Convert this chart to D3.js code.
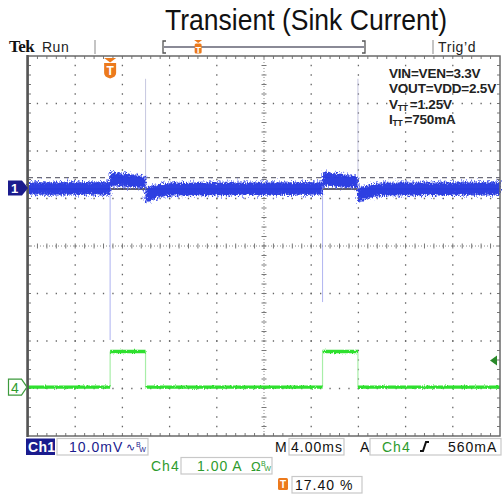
<!DOCTYPE html>
<html>
<head>
<meta charset="utf-8">
<script src="https://cdn.jsdelivr.net/npm/d3@7"></script>
<style>
  html, body { margin: 0; padding: 0; background: #fff; }
  svg { display: block; font-family: "Liberation Sans", Arial, sans-serif; }
</style>
</head>
<body>
<svg id="scope" width="503" height="494"></svg>
<script>
// ---- Acquisition settings ----
const timePerDiv = 4.0;        // ms / div
const ch1PerDiv = 10.0;        // mV / div
const ch4PerDiv = 1.0;         // A / div
const triggerPct = 17.40;      // trigger position, % of record
const triggerLevel = 0.56;     // A, on Ch4
const ch1Position = 1.22;      // div above centre
const ch4Position = -2.97;     // div below centre
const ch1RefLevel = 2.2;       // mV, dashed reference

// ---- Ch1 (output voltage, AC) envelope, mV ----
const ch1Time = [-6.96, -0.02, 0.02, 0.5, 1.5, 2.5, 2.98, 3.02, 3.4, 4.2, 5.5,
                 17.98, 18.02, 18.5, 19.5, 20.5, 20.98, 21.02, 21.4, 22.2, 23.5, 33.04];
const ch1High = [1.2, 1.2, 3.4, 3.2, 2.9, 2.6, 2.4, -0.1, 0.3, 0.8, 1.1,
                 1.2, 3.4, 3.2, 2.9, 2.6, 2.4, -0.1, 0.3, 0.8, 1.1, 1.2];
const ch1Low  = [-1.4, -1.4, 0.5, 0.5, 0.3, 0.1, 0.0, -3.0, -2.6, -1.9, -1.5,
                 -1.4, 0.5, 0.5, 0.3, 0.1, 0.0, -3.0, -2.6, -1.9, -1.5, -1.4];
// switching spikes on Ch1, mV
const spikeTime = [0, 3, 18, 21];
const spikePeak = [-32, 23, -24, 23];

// ---- Ch4 (sink current) levels, A ----
const ch4Start = [-6.96, 0, 3, 18, 21];
const ch4End   = [0, 3, 18, 21, 33.04];
const ch4Level = [0, 0.75, 0, 0.75, 0];

// ---- Text ----
const titleText = "Transient (Sink Current)";
const conditions = ["VIN=VEN=3.3V", "VOUT=VDD=2.5V", "V|TT|=1.25V", "I|TT|=750mA"];
const ch1ScaleLabel = "10.0mV";
const timeLabel = "4.00ms";
const trigLabel = "560mA";
const ch4ScaleLabel = "1.00 A";
const posLabel = "17.40 %";

const svg = d3.select("#scope");
const L = 28, R = 500, T = 56, B = 436;
const W = R - L, H = B - T;

const t0 = -triggerPct / 100 * 10 * timePerDiv;
const x = d3.scaleLinear().domain([t0, t0 + 10 * timePerDiv]).range([L, R]);
const yDiv = d3.scaleLinear().domain([-4, 4]).range([B, T]);
const y1 = v => yDiv(ch1Position + v / ch1PerDiv);
const y4 = v => yDiv(ch4Position + v / ch4PerDiv);

const NAVY = "#1b1c8e", GREEN = "#2e9b2e", ORANGE = "#ec7a1c";

// ---- filters for trace noise ----
const defs = svg.append("defs");
function noiseFilter(id, freq, scale, seed, oct) {
  const f = defs.append("filter").attr("id", id)
    .attr("x", "-2%").attr("y", "-150%").attr("width", "104%").attr("height", "400%");
  f.append("feTurbulence").attr("type", "fractalNoise").attr("baseFrequency", freq)
    .attr("numOctaves", oct).attr("seed", seed).attr("result", "tb");
  f.append("feDisplacementMap").attr("in", "SourceGraphic").attr("in2", "tb")
    .attr("scale", scale).attr("xChannelSelector", "B").attr("yChannelSelector", "R");
}
noiseFilter("noiseA", "1.2 0.3", 14, 3, 2);
noiseFilter("noiseB", "0.9 0.5", 8, 11, 2);
noiseFilter("noise4", "0.9 0.4", 3, 7, 1);

// ---- title ----
svg.append("text").attr("x", 165).attr("y", 30)
  .attr("font-size", 30).attr("fill", "#111")
  .attr("textLength", 282).attr("lengthAdjust", "spacingAndGlyphs")
  .text(titleText);

// ---- header bar ----
svg.append("text").attr("x", 9).attr("y", 52).style("font-family", "'Liberation Serif', serif")
  .attr("font-weight", "bold").attr("font-size", 17).attr("fill", "#111")
  .attr("letter-spacing", -0.5).text("Tek");
svg.append("text").attr("x", 42).attr("y", 51.5).attr("font-size", 14).attr("fill", "#222")
  .attr("letter-spacing", 0.5).text("Run");
svg.append("text").attr("x", 438).attr("y", 51.5).attr("font-size", 14).attr("fill", "#222")
  .attr("letter-spacing", 0.6).text("Trig’d");
[95, 433].forEach(px => svg.append("line").attr("x1", px).attr("x2", px)
  .attr("y1", 40).attr("y2", 54).attr("stroke", "#c4c4c4").attr("stroke-width", 2));
// record window
svg.append("path").attr("d", "M166,41 h-3 v12 h3 M362,41 h3 v12 h-3")
  .attr("fill", "none").attr("stroke", "#555").attr("stroke-width", 1.3);
svg.append("line").attr("x1", 164).attr("x2", 364).attr("y1", 47).attr("y2", 47)
  .attr("stroke", "#8a8a96").attr("stroke-width", 2.2);
const recX = 163 + triggerPct / 100 * 202;
svg.append("path").attr("d", `M${recX - 4},40 h8 l-4,3 z`).attr("fill", ORANGE);
svg.append("rect").attr("x", recX - 3.5).attr("y", 43.5).attr("width", 7).attr("height", 10)
  .attr("rx", 1.5).attr("fill", ORANGE);
svg.append("text").attr("x", recX).attr("y", 52.5).attr("text-anchor", "middle")
  .attr("font-size", 9).attr("font-weight", "bold").attr("fill", "#fff").text("T");

// ---- graticule ----
const g = svg.append("g");
g.append("rect").attr("x", L).attr("y", T).attr("width", W).attr("height", H)
  .attr("fill", "#fff");
const dx = W / 10, dy = H / 8;
for (let i = 1; i < 10; i++) {
  if (i === 5) continue;
  g.append("line").attr("x1", L + i * dx).attr("x2", L + i * dx).attr("y1", T).attr("y2", B)
    .attr("stroke", "#666").attr("stroke-width", 1.3)
    .attr("stroke-dasharray", `1.3,${dy / 5 - 1.3}`).attr("stroke-dashoffset", 0.65);
}
for (let j = 1; j < 8; j++) {
  if (j === 4) continue;
  g.append("line").attr("y1", T + j * dy).attr("y2", T + j * dy).attr("x1", L).attr("x2", R)
    .attr("stroke", "#666").attr("stroke-width", 1.3)
    .attr("stroke-dasharray", `1.3,${dx / 5 - 1.3}`).attr("stroke-dashoffset", 0.65);
}
// centre cross with minor ticks
const cx = L + 5 * dx, cy = T + 4 * dy;
g.append("line").attr("x1", cx).attr("x2", cx).attr("y1", T).attr("y2", B)
  .attr("stroke", "#888").attr("stroke-width", 1).attr("stroke-dasharray", "1,2");
g.append("line").attr("y1", cy).attr("y2", cy).attr("x1", L).attr("x2", R)
  .attr("stroke", "#888").attr("stroke-width", 1).attr("stroke-dasharray", "1,2");
const tickPath = [];
for (let k = 1; k < 50; k++) {
  const px = L + k * dx / 5;
  tickPath.push(`M${px},${cy - 2.5}V${cy + 2.5}`);
  tickPath.push(`M${px},${T}V${T + 3}`, `M${px},${B}V${B - 3}`);
}
for (let k = 1; k < 40; k++) {
  const py = T + k * dy / 5;
  tickPath.push(`M${cx - 2.5},${py}H${cx + 2.5}`);
  tickPath.push(`M${L},${py}H${L + 3}`, `M${R},${py}H${R - 3}`);
}
g.append("path").attr("d", tickPath.join("")).attr("stroke", "#777").attr("stroke-width", 1);

// ---- Ch1 reference lines ----
svg.append("line").attr("x1", L).attr("x2", R).attr("y1", y1(ch1RefLevel)).attr("y2", y1(ch1RefLevel))
  .attr("stroke", "#6c6c78").attr("stroke-width", 1.4).attr("stroke-dasharray", "5,4");
svg.append("line").attr("x1", L).attr("x2", R).attr("y1", y1(0) + 1).attr("y2", y1(0) + 1)
  .attr("stroke", "#2a2a40").attr("stroke-width", 1.4);

// ---- Ch1 spikes ----
spikeTime.forEach((t, i) => {
  svg.append("line").attr("x1", x(t)).attr("x2", x(t))
    .attr("y1", y1(0)).attr("y2", y1(spikePeak[i]))
    .attr("stroke", spikePeak[i] < 0 ? "#7880e6" : "#b8bad8")
    .attr("stroke-width", 1.1).attr("stroke-opacity", spikePeak[i] < 0 ? 0.55 : 0.75);
});

// ---- Ch1 trace ----
const ch1Data = ch1Time.map((t, i) => ({ t, hi: ch1High[i], lo: ch1Low[i] }));
const area1 = d3.area().x(d => x(d.t)).y0(d => y1(d.lo)).y1(d => y1(d.hi));
svg.append("path").datum(ch1Data).attr("d", area1)
  .attr("fill", "#6f7cf0").attr("opacity", 0.75).attr("filter", "url(#noiseA)");
svg.append("path").datum(ch1Data).attr("d", area1)
  .attr("fill", "#2336e0").attr("opacity", 0.9).attr("filter", "url(#noiseB)");

// ---- Ch4 trace ----
const ch4Edges = ch4Start.slice(1).map((t, i) => ({ t, a: ch4Level[i], b: ch4Level[i + 1] }));
ch4Edges.forEach(e => svg.append("line").attr("x1", x(e.t)).attr("x2", x(e.t))
  .attr("y1", y4(e.a)).attr("y2", y4(e.b))
  .attr("stroke", "#a8eea8").attr("stroke-width", 1.2));
const ch4Seg = ch4Start.map((s, i) => ({ s, e: ch4End[i], v: ch4Level[i] }));
svg.append("g").attr("filter", "url(#noise4)").selectAll("line").data(ch4Seg).join("line")
  .attr("x1", d => x(d.s)).attr("x2", d => x(d.e))
  .attr("y1", d => y4(d.v)).attr("y2", d => y4(d.v))
  .attr("stroke", "#2ee02e").attr("stroke-width", 3.4);

// ---- frame ----
svg.append("rect").attr("x", L).attr("y", T).attr("width", W).attr("height", H)
  .attr("fill", "none").attr("stroke", "#6a6a6a").attr("stroke-width", 1.5);
svg.append("line").attr("x1", L - 0.5).attr("x2", L - 0.5).attr("y1", T - 1).attr("y2", B + 1)
  .attr("stroke", "#555").attr("stroke-width", 2.5);

// ---- channel markers ----
const m1 = y1(0);
svg.append("path").attr("d", `M8,${m1 - 7.5} h14 l6,7.5 l-6,7.5 h-14 z`).attr("fill", NAVY);
svg.append("text").attr("x", 14.5).attr("y", m1 + 5).attr("text-anchor", "middle")
  .attr("font-size", 13).attr("font-weight", "bold").attr("fill", "#fff").text("1");
const m4 = y4(0);
svg.append("path").attr("d", `M8.5,${m4 - 8} h13 l5.5,8 l-5.5,8 h-13 z`)
  .attr("fill", "#fff").attr("stroke", "#3d9a3d").attr("stroke-width", 1.2);
svg.append("text").attr("x", 15).attr("y", m4 + 5.5).attr("text-anchor", "middle")
  .attr("font-size", 14).attr("fill", GREEN).text("4");
// trigger level arrow
const tl = y4(triggerLevel);
svg.append("path").attr("d", `M490,${tl} l7,-5 v10 z`).attr("fill", "#2a8a2a");
// trigger position marker
const tx = x(0);
svg.append("path").attr("d", `M${tx - 6},58 h12 l-6,4.5 z`).attr("fill", ORANGE);
svg.append("path").attr("d", `M${tx - 6},63 h12 v10 q0,4 -6,5.5 q-6,-1.5 -6,-5.5 z`).attr("fill", ORANGE);
svg.append("text").attr("x", tx).attr("y", 75).attr("text-anchor", "middle")
  .attr("font-size", 12).attr("font-weight", "bold").attr("fill", "#fff").text("T");

// ---- test conditions ----
const cond = svg.append("g").attr("fill", "#222").attr("font-size", 13.5).attr("font-weight", "bold");
conditions.forEach((s, i) => {
  const t = cond.append("text").attr("x", 389).attr("y", 78 + i * 15.3)
    .attr("letter-spacing", -0.2);
  const parts = s.split("|");
  parts.forEach((p, k) => {
    const sp = t.append("tspan").text(p);
    if (k === 1) sp.attr("font-size", 8.5).attr("dy", 2.5);
    if (k === 2) sp.attr("dy", -2.5).attr("dx", 2);
  });
});

// ---- status readout ----
const st = svg.append("g").attr("font-size", 14).attr("letter-spacing", 1);
function box(x0, y0, w, h) {
  st.append("rect").attr("x", x0).attr("y", y0).attr("width", w).attr("height", h)
    .attr("fill", "#fff").attr("stroke", "#c8c8c8").attr("stroke-width", 1.2);
}
function bwMark(x0, yb, color) {
  const t = st.append("text").attr("x", x0).attr("y", yb - 5).attr("fill", color)
    .attr("font-size", 7).attr("letter-spacing", 0);
  t.append("tspan").text("B");
  t.append("tspan").attr("dy", 5).attr("dx", -1.5).text("W");
}
// row 1
st.append("rect").attr("x", 26).attr("y", 438.5).attr("width", 29).attr("height", 16.5).attr("fill", NAVY);
st.append("text").attr("x", 28).attr("y", 452).attr("fill", "#fff").attr("font-weight", "bold")
  .attr("letter-spacing", 0.3).text("Ch1");
box(57, 438.5, 91, 16.5);
st.append("text").attr("x", 69).attr("y", 452).attr("fill", NAVY).text(ch1ScaleLabel);
st.append("text").attr("x", 126).attr("y", 451).attr("fill", NAVY).attr("font-size", 11)
  .attr("letter-spacing", 0).text("∿");
bwMark(136, 452, NAVY);
st.append("text").attr("x", 275).attr("y", 452).attr("fill", "#111").attr("letter-spacing", 0).text("M");
box(289, 438.5, 55, 16.5);
st.append("text").attr("x", 291).attr("y", 452).attr("fill", "#111").text(timeLabel);
st.append("text").attr("x", 360).attr("y", 452).attr("fill", "#111").text("A");
box(370, 438.5, 131, 16.5);
st.append("text").attr("x", 382).attr("y", 452).attr("fill", GREEN).text("Ch4");
st.append("path").attr("d", "M420,451 h3 l3,-9 h3").attr("fill", "none")
  .attr("stroke", "#111").attr("stroke-width", 2);
st.append("text").attr("x", 448).attr("y", 452).attr("fill", "#111").text(trigLabel);
// row 2
st.append("text").attr("x", 151).attr("y", 471).attr("fill", GREEN).text("Ch4");
box(181, 457.5, 91, 16.5);
st.append("text").attr("x", 197).attr("y", 471).attr("fill", GREEN).text(ch4ScaleLabel);
st.append("text").attr("x", 251).attr("y", 471).attr("fill", GREEN).attr("font-size", 13)
  .attr("letter-spacing", 0).text("Ω");
bwMark(261, 471, GREEN);
// row 3
st.append("rect").attr("x", 278).attr("y", 478).attr("width", 10).attr("height", 12)
  .attr("rx", 1.5).attr("fill", ORANGE);
st.append("text").attr("x", 283).attr("y", 488).attr("text-anchor", "middle").attr("fill", "#fff")
  .attr("font-size", 10).attr("font-weight", "bold").attr("letter-spacing", 0).text("T");
box(292, 476.5, 70, 16.5);
st.append("text").attr("x", 295).attr("y", 490).attr("fill", "#111").text(posLabel);
</script>
</body>
</html>
